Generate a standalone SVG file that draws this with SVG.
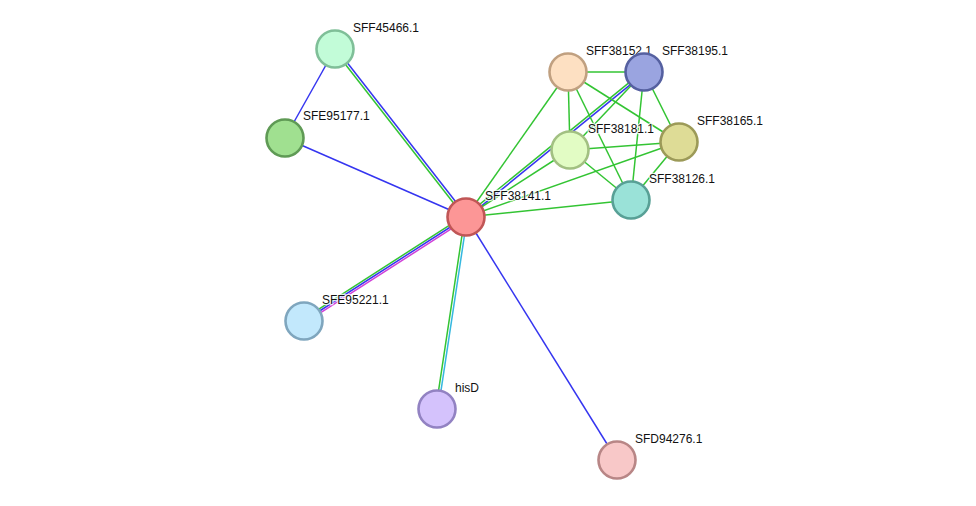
<svg xmlns="http://www.w3.org/2000/svg" width="976" height="506" viewBox="0 0 976 506">
<style>
.e{stroke-width:1.5;fill:none}
.g{stroke:#33c433}
.b{stroke:#3535f0}
.m{stroke:#d040d8}
.c{stroke:#35b8e0}
.n{stroke-width:2.6}
.t{font-family:"Liberation Sans",Arial,sans-serif;font-size:12px;fill:#111;stroke:#fff;stroke-width:2.5;stroke-opacity:0.8;paint-order:stroke;stroke-linejoin:round}
</style>
<rect width="976" height="506" fill="#fff"/>
<g id="edges">
<line class="e b" x1="335" y1="49" x2="285" y2="138"/>
<line class="e b" x1="336.0" y1="48.2" x2="467.0" y2="216.2"/>
<line class="e g" x1="334.0" y1="49.8" x2="465.0" y2="217.8"/>
<line class="e b" x1="285" y1="138" x2="466" y2="217"/>
<line class="e g" x1="464.9" y1="215.3" x2="302.9" y2="319.3"/>
<line class="e b" x1="466" y1="217" x2="304" y2="321"/>
<line class="e m" x1="467.1" y1="218.7" x2="305.1" y2="322.7"/>
<line class="e g" x1="464.8" y1="216.8" x2="435.8" y2="408.8"/>
<line class="e c" x1="467.2" y1="217.2" x2="438.2" y2="409.2"/>
<line class="e b" x1="466" y1="217" x2="617" y2="460"/>
<line class="e g" x1="465.2" y1="216.1" x2="643.2" y2="71.1"/>
<line class="e b" x1="466.8" y1="217.9" x2="644.8" y2="72.9"/>
<line class="e g" x1="466" y1="217" x2="568" y2="72"/>
<line class="e g" x1="466" y1="217" x2="570" y2="150"/>
<line class="e g" x1="466" y1="217" x2="679" y2="142"/>
<line class="e g" x1="466" y1="217" x2="631" y2="200"/>
<line class="e g" x1="568" y1="72" x2="644" y2="72"/>
<line class="e g" x1="568" y1="72" x2="570" y2="150"/>
<line class="e g" x1="568" y1="72" x2="679" y2="142"/>
<line class="e g" x1="568" y1="72" x2="631" y2="200"/>
<line class="e g" x1="644" y1="72" x2="570" y2="150"/>
<line class="e g" x1="644" y1="72" x2="679" y2="142"/>
<line class="e g" x1="644" y1="72" x2="631" y2="200"/>
<line class="e g" x1="570" y1="150" x2="679" y2="142"/>
<line class="e g" x1="570" y1="150" x2="631" y2="200"/>
<line class="e g" x1="679" y1="142" x2="631" y2="200"/>
</g>
<g id="SFF45466.1"><circle class="n" cx="335" cy="49" r="18.5" fill="#c2fcd8" stroke="#7fbf98"/><text class="t" x="353" y="32">SFF45466.1</text></g>
<g id="SFE95177.1"><circle class="n" cx="285" cy="138" r="18.5" fill="#a0e090" stroke="#5f9a55"/><text class="t" x="303" y="120">SFE95177.1</text></g>
<g id="SFE95221.1"><circle class="n" cx="304" cy="321" r="18.5" fill="#c2e8fc" stroke="#7fa6be"/><text class="t" x="322" y="304">SFE95221.1</text></g>
<g id="hisD"><circle class="n" cx="437" cy="409" r="18.5" fill="#d4c2fc" stroke="#9282c2"/><text class="t" x="455" y="392">hisD</text></g>
<g id="SFD94276.1"><circle class="n" cx="617" cy="460" r="18.5" fill="#f8c8c8" stroke="#b88686"/><text class="t" x="635" y="443">SFD94276.1</text></g>
<g id="SFF38152.1"><circle class="n" cx="568" cy="72" r="18.5" fill="#fde0c2" stroke="#c0a080"/><text class="t" x="586" y="55">SFF38152.1</text></g>
<g id="SFF38195.1"><circle class="n" cx="644" cy="72" r="18.5" fill="#9aa4e0" stroke="#5560a0"/><text class="t" x="662" y="55">SFF38195.1</text></g>
<g id="SFF38181.1"><circle class="n" cx="570" cy="150" r="18.5" fill="#e2fcc4" stroke="#a2c082"/><text class="t" x="588" y="133">SFF38181.1</text></g>
<g id="SFF38165.1"><circle class="n" cx="679" cy="142" r="18.5" fill="#dedc96" stroke="#9c9a58"/><text class="t" x="697" y="125">SFF38165.1</text></g>
<g id="SFF38126.1"><circle class="n" cx="631" cy="200" r="18.5" fill="#9ae2d8" stroke="#58a096"/><text class="t" x="649" y="183">SFF38126.1</text></g>
<g id="SFF38141.1"><circle class="n" cx="466" cy="217" r="18.5" fill="#fc9696" stroke="#c05656"/><text class="t" x="485" y="200">SFF38141.1</text></g>
</svg>
